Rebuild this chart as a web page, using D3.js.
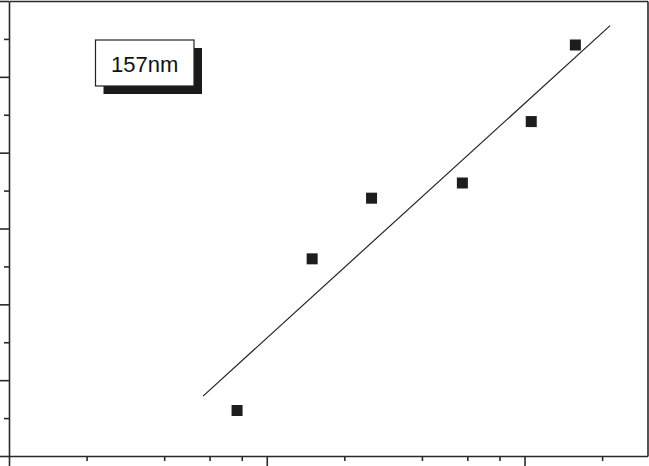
<!DOCTYPE html>
<html lang="en">
<head>
    <meta charset="UTF-8">
    <title>157nm</title>
    <script src="https://d3js.org/d3.v7.min.js"></script>
    <style>
        body { margin: 0; background: #fff; }
        svg { display: block; }
        .axis path, .axis line { stroke: #2a2a2a; stroke-width: 1.6; }
    </style>
</head>
<body>
    <div id="chart"></div>
    <script>
        // measured points (x on log axis)
        const xValues = [7.67, 15.0, 25.5, 57.4, 106.2, 157.5];
        const yValues = [0.6, 2.6, 3.4, 3.6, 4.41, 5.42];
        // fitted line end points
        const fitX = [5.66, 214.8];
        const fitY = [0.79, 5.675];
        const xMajor = [1, 10, 100];
        const xMinor = [2, 4, 6, 8, 20, 40, 60, 80, 200];
        const yMajor = [0, 1, 2, 3, 4, 5, 6];
        const yMinor = [0.5, 1.5, 2.5, 3.5, 4.5, 5.5];
        const label = "157nm";

        const width = 649, height = 466;

        const svg = d3.select("#chart").append("svg")
            .attr("width", width)
            .attr("height", height);

        const x = d3.scaleLog().domain([1, 300]).range([9, 647.5]);
        const y = d3.scaleLinear().domain([0, 6]).range([456, 1]);

        // frame: top and right
        svg.append("g").attr("class", "axis")
            .attr("transform", `translate(0,${y(6)})`)
            .call(d3.axisTop(x).tickValues([]).tickSizeOuter(0));
        svg.append("g").attr("class", "axis")
            .attr("transform", `translate(${x(300)},0)`)
            .call(d3.axisRight(y).tickValues([]).tickSizeOuter(0));

        // bottom axis, ticks only (labels are outside the crop)
        svg.append("g").attr("class", "axis")
            .attr("transform", `translate(0,${y(0)})`)
            .call(d3.axisBottom(x).tickValues(xMajor).tickSize(10).tickSizeOuter(0).tickFormat(""));
        svg.append("g").attr("class", "axis")
            .attr("transform", `translate(0,${y(0)})`)
            .call(d3.axisBottom(x).tickValues(xMinor).tickSize(5).tickSizeOuter(0).tickFormat(""))
            .select(".domain").remove();

        // left axis
        svg.append("g").attr("class", "axis")
            .attr("transform", `translate(${x(1)},0)`)
            .call(d3.axisLeft(y).tickValues(yMajor).tickSize(9).tickSizeOuter(0).tickFormat(""));
        svg.append("g").attr("class", "axis")
            .attr("transform", `translate(${x(1)},0)`)
            .call(d3.axisLeft(y).tickValues(yMinor).tickSize(5).tickSizeOuter(0).tickFormat(""))
            .select(".domain").remove();

        // fit line
        const fit = fitX.map((d, i) => [d, fitY[i]]);
        svg.append("path")
            .datum(fit)
            .attr("fill", "none")
            .attr("stroke", "#222")
            .attr("stroke-width", 1.2)
            .attr("d", d3.line().x(d => x(d[0])).y(d => y(d[1])));

        // points
        const pts = xValues.map((d, i) => [d, yValues[i]]);
        const s = 11;
        svg.selectAll("rect.pt")
            .data(pts)
            .join("rect")
            .attr("class", "pt")
            .attr("x", d => x(d[0]) - s / 2)
            .attr("y", d => y(d[1]) - s / 2)
            .attr("width", s)
            .attr("height", s)
            .attr("fill", "#1e1c1d");

        // label box with shadow
        const bx = 95.5, by = 40, bw = 98.5, bh = 46, off = 8;
        svg.append("rect")
            .attr("x", bx + off).attr("y", by + off)
            .attr("width", bw).attr("height", bh)
            .attr("fill", "#1a1a1a");
        svg.append("rect")
            .attr("x", bx).attr("y", by)
            .attr("width", bw).attr("height", bh)
            .attr("fill", "#fff")
            .attr("stroke", "#222")
            .attr("stroke-width", 1.2);
        svg.append("text")
            .attr("x", bx + bw / 2)
            .attr("y", 71.5)
            .attr("text-anchor", "middle")
            .attr("font-family", "'Liberation Sans', Arial, sans-serif")
            .attr("font-size", 22)
            .attr("fill", "#111")
            .text(label);
    </script>
</body>
</html>
